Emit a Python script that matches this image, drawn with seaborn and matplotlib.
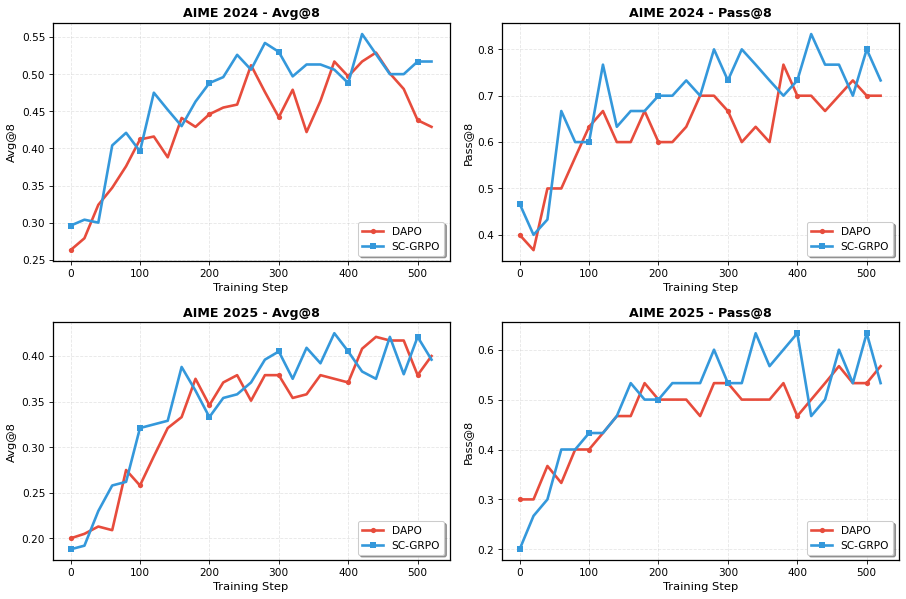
import matplotlib
matplotlib.use("Agg")
import matplotlib.pyplot as plt
import numpy as np
import pandas as pd
import seaborn as sns

STEPS = list(range(0, 521, 20))

DAPO_2024_AVG = [0.263, 0.279, 0.324, 0.347, 0.376, 0.412, 0.416, 0.388, 0.441, 0.429,
                 0.446, 0.455, 0.459, 0.512, 0.476, 0.442, 0.479, 0.422, 0.464, 0.517,
                 0.497, 0.517, 0.529, 0.501, 0.480, 0.438, 0.429]
SC_2024_AVG = [0.296, 0.304, 0.300, 0.404, 0.421, 0.396, 0.475, 0.452, 0.430, 0.463,
               0.488, 0.496, 0.526, 0.506, 0.542, 0.530, 0.497, 0.513, 0.513, 0.506,
               0.488, 0.554, 0.527, 0.500, 0.500, 0.517, 0.517]

DAPO_2024_PASS = [0.400, 0.367, 0.500, 0.500, 0.567, 0.633, 0.667, 0.600, 0.600, 0.667,
                  0.600, 0.600, 0.633, 0.700, 0.700, 0.667, 0.600, 0.633, 0.600, 0.767,
                  0.700, 0.700, 0.667, 0.700, 0.733, 0.700, 0.700]
SC_2024_PASS = [0.467, 0.400, 0.433, 0.667, 0.600, 0.600, 0.767, 0.633, 0.667, 0.667,
                0.700, 0.700, 0.733, 0.700, 0.800, 0.733, 0.800, 0.767, 0.733, 0.700,
                0.733, 0.833, 0.767, 0.767, 0.700, 0.800, 0.733]

DAPO_2025_AVG = [0.200, 0.205, 0.213, 0.209, 0.275, 0.258, 0.290, 0.321, 0.333, 0.375,
                 0.346, 0.371, 0.379, 0.351, 0.379, 0.379, 0.354, 0.358, 0.379, 0.375,
                 0.371, 0.408, 0.421, 0.417, 0.417, 0.379, 0.400]
SC_2025_AVG = [0.188, 0.192, 0.230, 0.258, 0.262, 0.321, 0.325, 0.329, 0.388, 0.362,
               0.333, 0.354, 0.358, 0.371, 0.396, 0.405, 0.375, 0.409, 0.392, 0.425,
               0.405, 0.383, 0.375, 0.421, 0.380, 0.421, 0.396]

DAPO_2025_PASS = [0.300, 0.300, 0.367, 0.333, 0.400, 0.400, 0.433, 0.467, 0.467, 0.533,
                  0.500, 0.500, 0.500, 0.467, 0.533, 0.533, 0.500, 0.500, 0.500, 0.533,
                  0.467, 0.500, 0.533, 0.567, 0.533, 0.533, 0.567]
SC_2025_PASS = [0.200, 0.267, 0.300, 0.400, 0.400, 0.433, 0.433, 0.467, 0.533, 0.500,
                0.500, 0.533, 0.533, 0.533, 0.600, 0.533, 0.533, 0.633, 0.567, 0.600,
                0.633, 0.467, 0.500, 0.600, 0.533, 0.633, 0.533]

PANELS = [
    ("AIME 2024 - Avg@8", "Avg@8", DAPO_2024_AVG, SC_2024_AVG),
    ("AIME 2024 - Pass@8", "Pass@8", DAPO_2024_PASS, SC_2024_PASS),
    ("AIME 2025 - Avg@8", "Avg@8", DAPO_2025_AVG, SC_2025_AVG),
    ("AIME 2025 - Pass@8", "Pass@8", DAPO_2025_PASS, SC_2025_PASS),
]

RED = "#e74c3c"
BLUE = "#3498db"
DPI = 75.5


def main() -> None:
    plt.rcParams["font.family"] = ["DejaVu Sans"]
    fig, axes = plt.subplots(2, 2, figsize=(906 / DPI, 599.4 / DPI), dpi=DPI)
    for ax, (title, ylabel, dapo, sc) in zip(axes.flat, PANELS):
        sns.lineplot(x=STEPS, y=dapo, ax=ax, color=RED, linewidth=2.5, marker="o",
                     markersize=5, markeredgewidth=0, markevery=5, label="DAPO")
        sns.lineplot(x=STEPS, y=sc, ax=ax, color=BLUE, linewidth=2.5, marker="s",
                     markersize=5, markeredgewidth=0, markevery=5, label="SC-GRPO")
        ax.set_title(title, fontsize=12, fontweight="bold")
        ax.set_xlabel("Training Step", fontsize=11)
        ax.set_ylabel(ylabel, fontsize=11)
        ax.tick_params(labelsize=10)
        ax.grid(True, linestyle="--", alpha=0.3)
        ax.legend(loc="lower right", fontsize=10, shadow=True, fancybox=True)
        for spine in ax.spines.values():
            spine.set_linewidth(1.2)
    fig.tight_layout(pad=0.7, w_pad=1.3, h_pad=1.3)
    fig.savefig("out.png", dpi=DPI)
    plt.close(fig)


if __name__ == "__main__":
    main()
